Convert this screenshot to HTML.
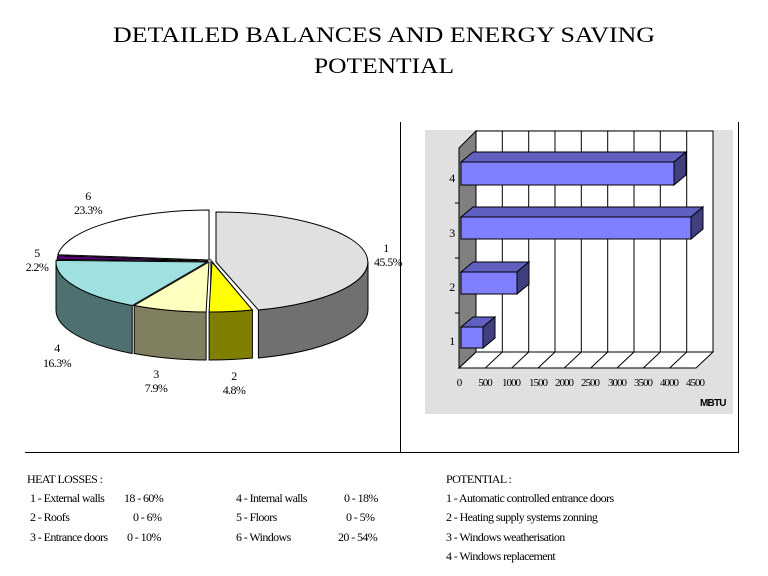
<!DOCTYPE html>
<html><head><meta charset="utf-8"><style>
body{margin:0;background:#fff;width:768px;height:576px;overflow:hidden}
svg{display:block}
text{font-family:"Liberation Serif",serif}
.s{font-size:12px;letter-spacing:-0.6px}
.b{font-family:"Liberation Sans",sans-serif;font-size:10px;letter-spacing:-0.8px}
</style></head><body>
<svg width="768" height="576" viewBox="0 0 768 576" xmlns="http://www.w3.org/2000/svg">
<text x="384" y="42" text-anchor="middle" font-size="22" textLength="542" lengthAdjust="spacingAndGlyphs">DETAILED BALANCES AND ENERGY SAVING</text>
<text x="384" y="73" text-anchor="middle" font-size="22" textLength="140" lengthAdjust="spacingAndGlyphs">POTENTIAL</text>
<g stroke="#000" stroke-width="1" fill="none">
<line x1="400.5" y1="122" x2="400.5" y2="452"/>
<line x1="25" y1="452.5" x2="739" y2="452.5"/>
<line x1="738.5" y1="122" x2="738.5" y2="452"/>
</g>
<!-- pie sides -->
<g stroke="#000" stroke-width="1">
<path d="M368,262 A152,50 0 0 1 258.4,310 L258.4,358 A152,50 0 0 0 368,310 Z" fill="#707070"/>
<path d="M252.4,310 L252.4,358 L210,306 L210,258 Z" fill="#707070" stroke="none"/>
<path d="M252.4,310 A152,50 0 0 1 209.1,312 L209.1,360 A152,50 0 0 0 252.4,358 Z" fill="#808000"/>
<path d="M206.1,312 A152,50 0 0 1 134.2,305.5 L134.2,353.5 A152,50 0 0 0 206.1,360 Z" fill="#808060"/>
<path d="M132.2,305.5 A152,50 0 0 1 56,262 L56,310 A152,50 0 0 0 132.2,353.5 Z" fill="#4f7070"/>
<!-- tops -->
<path d="M216,262 L216,212 A152,50 0 0 1 258.4,310 Z" fill="#e0e0e0"/>
<path d="M212,262 L252.4,310 A152,50 0 0 1 209.1,312 Z" fill="#ffff00"/>
<path d="M209,262 L206.1,312 A152,50 0 0 1 134.2,305.5 Z" fill="#ffffc0"/>
<path d="M207,262 L132.2,305.5 A152,50 0 0 1 56.1,260.4 Z" fill="#a0e0e0"/>
<path d="M208,261 L57.1,259.4 A152,50 0 0 1 57.9,255.7 Z" fill="#600080"/>
<path d="M209,260 L57.9,254.7 A152,50 0 0 1 209,210 Z" fill="#ffffff"/>
</g>
<g class="s" text-anchor="middle">
<text x="386" y="252">1</text><text x="388" y="266">45.5%</text>
<text x="234" y="380">2</text><text x="234" y="394">4.8%</text>
<text x="156" y="378">3</text><text x="156" y="392">7.9%</text>
<text x="57" y="352">4</text><text x="57" y="367">16.3%</text>
<text x="37" y="257">5</text><text x="37" y="271">2.2%</text>
<text x="88" y="200">6</text><text x="88" y="214">23.3%</text>
</g>
<!-- bar chart -->
<rect x="425" y="130" width="308" height="284" fill="#e0e0e0"/>
<rect x="476" y="131" width="237" height="221" fill="#fff" stroke="#000"/>
<polygon points="459,368 476,352 713,352 696,368" fill="#fff" stroke="#000"/>
<polygon points="459,148 476,131 476,352 459,368" fill="#808080" stroke="#000"/>
<g stroke="#000">
<line x1="502.3" y1="131" x2="502.3" y2="352"/><line x1="528.7" y1="131" x2="528.7" y2="352"/>
<line x1="555" y1="131" x2="555" y2="352"/><line x1="581.3" y1="131" x2="581.3" y2="352"/>
<line x1="607.7" y1="131" x2="607.7" y2="352"/><line x1="634" y1="131" x2="634" y2="352"/>
<line x1="660.3" y1="131" x2="660.3" y2="352"/><line x1="686.7" y1="131" x2="686.7" y2="352"/>
<line x1="485.3" y1="368" x2="502.3" y2="352"/><line x1="511.7" y1="368" x2="528.7" y2="352"/>
<line x1="538" y1="368" x2="555" y2="352"/><line x1="564.3" y1="368" x2="581.3" y2="352"/>
<line x1="590.7" y1="368" x2="607.7" y2="352"/><line x1="617" y1="368" x2="634" y2="352"/>
<line x1="643.3" y1="368" x2="660.3" y2="352"/><line x1="669.7" y1="368" x2="686.7" y2="352"/>
<line x1="459" y1="148" x2="459" y2="368"/>
<line x1="455" y1="203" x2="459" y2="203"/><line x1="455" y1="258" x2="459" y2="258"/><line x1="455" y1="313" x2="459" y2="313"/>
</g>
<g stroke="#000">
<polygon points="461,162 473,152 686,152 674,162" fill="#6060c0"/>
<polygon points="674,162 686,152 686,175 674,185" fill="#404080"/>
<rect x="461" y="162" width="213" height="23" fill="#8080ff"/>
<polygon points="461,217 473,207 703,207 691,217" fill="#6060c0"/>
<polygon points="691,217 703,207 703,229 691,239" fill="#404080"/>
<rect x="461" y="217" width="230" height="22" fill="#8080ff"/>
<polygon points="461,272 473,262 529,262 517,272" fill="#6060c0"/>
<polygon points="517,272 529,262 529,284 517,294" fill="#404080"/>
<rect x="461" y="272" width="56" height="22" fill="#8080ff"/>
<polygon points="461,327 473,317 495,317 483,327" fill="#6060c0"/>
<polygon points="483,327 495,317 495,338 483,348" fill="#404080"/>
<rect x="461" y="327" width="22" height="21" fill="#8080ff"/>
</g>
<g class="s" text-anchor="middle" font-size="11">
<text x="452" y="182">4</text><text x="452" y="237">3</text><text x="452" y="291">2</text><text x="452" y="345">1</text>
</g>
<g class="s" text-anchor="middle" style="font-size:11px;letter-spacing:-1px">
<text x="459" y="386">0</text><text x="485" y="386">500</text><text x="511" y="386">1000</text><text x="538" y="386">1500</text><text x="564" y="386">2000</text><text x="590" y="386">2500</text><text x="617" y="386">3000</text><text x="643" y="386">3500</text><text x="669" y="386">4000</text><text x="695" y="386">4500</text>
</g>
<text x="700" y="406" class="b" font-weight="bold">MBTU</text>
<!-- legend -->
<g class="s">
<text x="27" y="483">HEAT LOSSES :</text>
<text x="30" y="502">1 - External walls</text><text x="124" y="502">18 - 60%</text>
<text x="30" y="521">2 - Roofs</text><text x="133" y="521">0 - 6%</text>
<text x="30" y="541">3 - Entrance doors</text><text x="127" y="541">0 - 10%</text>
<text x="236" y="502">4 - Internal walls</text><text x="344" y="502">0 - 18%</text>
<text x="236" y="521">5 - Floors</text><text x="346" y="521">0 - 5%</text>
<text x="236" y="541">6 - Windows</text><text x="338" y="541">20 - 54%</text>
<text x="446" y="483">POTENTIAL :</text>
<text x="446" y="502">1 - Automatic controlled entrance doors</text>
<text x="446" y="521">2 - Heating supply systems zonning</text>
<text x="446" y="541">3 - Windows weatherisation</text>
<text x="446" y="560">4 - Windows replacement</text>
</g>
</svg>
</body></html>
